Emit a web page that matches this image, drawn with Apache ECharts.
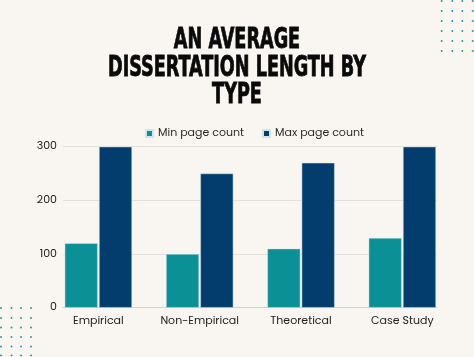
<!DOCTYPE html>
<html>
<head>
<meta charset="utf-8">
<script src="https://cdn.jsdelivr.net/npm/echarts@6/dist/echarts.min.js"></script>
<style>
html,body{margin:0;padding:0;background:#f9f6f2;}
#chart{width:474px;height:357px;}
</style>
</head>
<body>
<div id="chart"></div>
<script>
const titleLines = ['AN AVERAGE', 'DISSERTATION LENGTH BY', 'TYPE'];
const categories = ['Empirical', 'Non-Empirical', 'Theoretical', 'Case Study'];
const seriesNames = ['Min page count', 'Max page count'];
const minPages = [120, 100, 110, 130];
const maxPages = [300, 250, 270, 300];
const yTicks = [0, 100, 200, 300];

const TEAL = '#0b9195';
const NAVY = '#033d6d';
const FONT = '"Poppins","Open Sans",sans-serif';

const dots = [];
function dotGrid(xs, ys) {
  xs.forEach(x => ys.forEach(y => dots.push({
    type: 'circle', shape: {cx: x, cy: y, r: 1}, style: {fill: '#2a9a98'}, silent: true
  })));
}
dotGrid([441.7, 452.3, 462.3, 472.7], [1, 11, 21, 31, 41, 51]);
dotGrid([1, 11.5, 21, 31], [308, 318, 327.5, 337, 346.5, 355.5]);

const chart = echarts.init(document.getElementById('chart'), null, {renderer: 'canvas'});
chart.setOption({
  backgroundColor: '#f9f6f2',
  animation: false,
  legend: {
    data: seriesNames,
    left: 140,
    top: 123,
    icon: 'rect',
    itemWidth: 7,
    itemHeight: 7,
    itemGap: 18,
    textStyle: {fontFamily: FONT, fontSize: 11, color: '#2b2b2b'}
  },
  grid: [
    {left: 63, right: 37, top: 146.7, bottom: 49.3},
    {left: 47.7, right: 21, top: 146.7, bottom: 49.3}
  ],
  xAxis: [
    {
      type: 'category', gridIndex: 0, data: categories,
      axisLine: {show: true, lineStyle: {color: '#d6d2cc', width: 1}},
      axisTick: {show: false}, axisLabel: {show: false}
    },
    {
      type: 'category', gridIndex: 1, data: categories,
      axisLine: {show: false}, axisTick: {show: false},
      axisLabel: {interval: 0, fontFamily: FONT, fontSize: 11, color: '#222', margin: 8}
    }
  ],
  yAxis: [
    {
      type: 'value', gridIndex: 0, min: yTicks[0], max: yTicks[yTicks.length - 1], interval: 100,
      axisLine: {show: false}, axisTick: {show: false},
      axisLabel: {fontFamily: FONT, fontSize: 11, color: '#222', margin: 6},
      splitLine: {show: true, lineStyle: {color: '#e4e0da', width: 1}}
    },
    {
      type: 'value', gridIndex: 1, min: yTicks[0], max: yTicks[yTicks.length - 1], interval: 100,
      show: false, splitLine: {show: false}
    }
  ],
  series: [
    {
      name: seriesNames[0], type: 'bar', xAxisIndex: 1, yAxisIndex: 1,
      data: minPages, barCategoryGap: '33.6%', barGap: '4%',
      itemStyle: {color: TEAL, borderColor: '#cfe6ee', borderWidth: 0.5}
    },
    {
      name: seriesNames[1], type: 'bar', xAxisIndex: 1, yAxisIndex: 1,
      data: maxPages, barCategoryGap: '33.6%', barGap: '4%',
      itemStyle: {color: NAVY, borderColor: '#cfe6ee', borderWidth: 0.5}
    }
  ],
  graphic: dots.concat([
    {
      type: 'text', x: 237, y: 27, scaleX: 0.70, silent: true,
      style: {
        text: titleLines.join('\n'),
        font: 'bold 28px "Liberation Sans Narrow","DejaVu Sans Condensed",sans-serif',
        lineHeight: 27.5, align: 'center', verticalAlign: 'top', fill: '#0a0a0a',
        stroke: '#0a0a0a', lineWidth: 0.8
      }
    }
  ])
});
</script>
</body>
</html>
